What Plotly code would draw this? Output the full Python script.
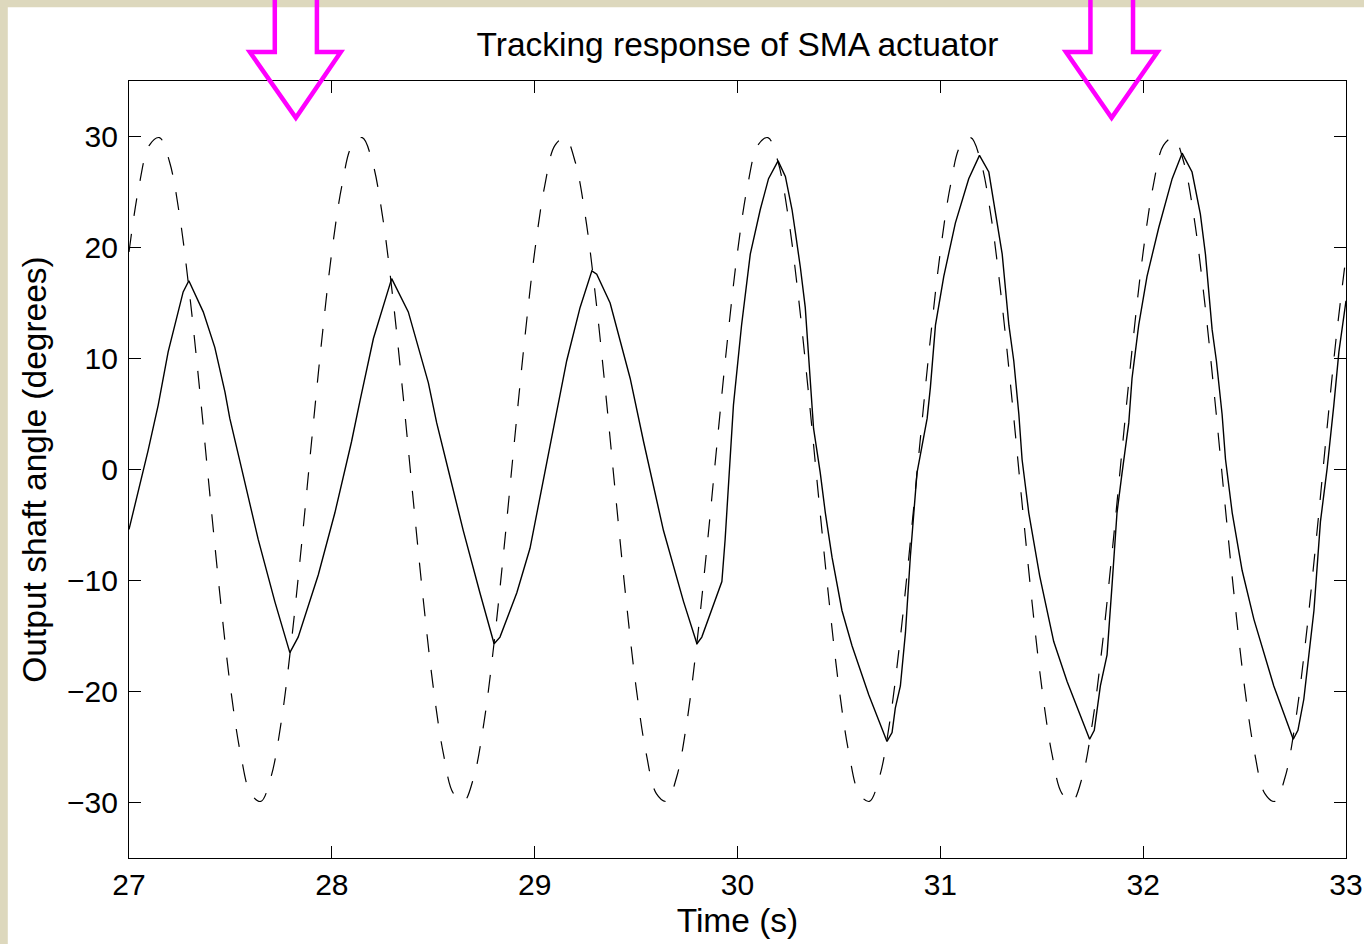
import plotly.graph_objects as go

# ---------------- data ----------------
# reference (dashed) signal, sampled every 0.05 s from t = 27.00 to 33.00
ref_t0 = 27.0
ref_dt = 0.05
ref_angle = [
    19.6, 25.6, 29.2, 29.9, 27.7, 22.8, 15.6, 6.9, -2.5, -11.6,
    -19.6, -25.6, -29.2, -29.9, -27.7, -22.8, -15.6, -6.9, 2.5, 11.6,
    19.6, 25.6, 29.2, 29.9, 27.7, 22.8, 15.6, 6.9, -2.5, -11.6,
    -19.6, -25.6, -29.2, -29.9, -27.7, -22.8, -15.6, -6.9, 2.5, 11.6,
    19.6, 25.6, 29.2, 29.9, 27.7, 22.8, 15.6, 6.9, -2.5, -11.6,
    -19.6, -25.6, -29.2, -29.9, -27.7, -22.8, -15.6, -6.9, 2.5, 11.6,
    19.6, 25.6, 29.2, 29.9, 27.7, 22.8, 15.6, 6.9, -2.5, -11.6,
    -19.6, -25.6, -29.2, -29.9, -27.7, -22.8, -15.6, -6.9, 2.5, 11.6,
    19.6, 25.6, 29.2, 29.9, 27.7, 22.8, 15.6, 6.9, -2.5, -11.6,
    -19.6, -25.6, -29.2, -29.9, -27.7, -22.8, -15.6, -6.9, 2.5, 11.6,
    19.6, 25.6, 29.2, 29.9, 27.7, 22.8, 15.6, 6.9, -2.5, -11.6,
    -19.6, -25.6, -29.2, -29.9, -27.7, -22.8, -15.6, -6.9, 2.5, 11.6,
    19.2,
]

# measured actuator output (solid)
out_time = [
    27.000, 27.094, 27.144, 27.193, 27.267, 27.295, 27.366, 27.423, 27.473, 27.497,
    27.555, 27.637, 27.719, 27.793, 27.834, 27.933, 28.015, 28.097, 28.139, 28.205,
    28.295, 28.377, 28.476, 28.517, 28.583, 28.648, 28.730, 28.800, 28.829, 28.912,
    28.977, 29.076, 29.158, 29.224, 29.282, 29.306, 29.372, 29.471, 29.537, 29.635,
    29.734, 29.800, 29.824, 29.923, 29.939, 29.980, 30.020, 30.063, 30.112, 30.153,
    30.200, 30.236, 30.269, 30.285, 30.310, 30.334, 30.359, 30.375, 30.408, 30.433,
    30.466, 30.515, 30.565, 30.647, 30.737, 30.762, 30.778, 30.803, 30.828, 30.852,
    30.885, 30.935, 30.951, 30.976, 31.017, 31.074, 31.140, 31.193, 31.239, 31.272,
    31.305, 31.338, 31.362, 31.387, 31.403, 31.436, 31.490, 31.559, 31.625, 31.736,
    31.759, 31.789, 31.822, 31.847, 31.871, 31.896, 31.929, 31.945, 31.978, 32.019,
    32.077, 32.143, 32.192, 32.241, 32.282, 32.307, 32.340, 32.361, 32.389, 32.406,
    32.439, 32.488, 32.546, 32.644, 32.740, 32.763, 32.792, 32.817, 32.842, 32.874,
    32.907, 32.940, 32.965, 33.000,
]
out_angle = [
    -5.4, 1.7, 5.8, 10.6, 16.0, 17.0, 14.2, 11.0, 7.0, 4.6,
    0.1, -6.3, -11.9, -16.5, -15.1, -9.5, -3.9, 2.5, 6.2, 11.8,
    17.2, 14.2, 7.8, 4.2, -0.7, -5.5, -11.1, -15.7, -15.1, -11.1,
    -7.1, 2.1, 9.8, 14.6, 17.9, 17.6, 15.0, 8.2, 2.5, -5.5,
    -11.9, -15.7, -15.1, -10.1, -6.3, 5.8, 13.0, 19.4, 23.4, 26.2,
    27.8, 26.4, 23.4, 21.4, 18.2, 14.6, 8.2, 3.7, -0.3, -3.9,
    -7.9, -12.7, -15.9, -20.3, -24.5, -23.7, -21.5, -19.5, -14.7, -7.9,
    -0.3, 4.6, 7.4, 13.0, 17.4, 22.2, 26.2, 28.3, 26.8, 23.0,
    19.4, 13.0, 9.8, 5.0, 0.9, -3.9, -9.6, -15.5, -19.1, -24.3,
    -23.5, -19.5, -16.7, -10.3, -3.9, -0.3, 4.2, 8.2, 13.0, 17.4,
    21.8, 26.2, 28.5, 26.8, 23.0, 19.4, 12.6, 9.8, 5.0, 0.9,
    -3.9, -9.1, -13.5, -19.5, -24.3, -23.5, -20.7, -16.7, -12.7, -4.7,
    0.1, 5.8, 10.6, 15.2,
]

x_ticks = [27, 28, 29, 30, 31, 32, 33]
y_ticks = [-30, -20, -10, 0, 10, 20, 30]

title_text = "Tracking response of SMA actuator"
x_title = "Time (s)"
y_title = "Output shaft angle (degrees)"

# decorative hollow arrows (paper coordinates of the plot area)
arrow_shafts = [(0.1198, 0.1544), (0.7900, 0.8250)]
arrow_heads = [(0.0993, 0.1740), (0.7699, 0.8451)]
arrow_tips = [0.1371, 0.8074]
arrow_top_y = 1.12
arrow_base_y = 1.0373
arrow_tip_y = 0.9526

FONT = "Liberation Sans, Arial, Helvetica, sans-serif"
BEIGE = "#ddd8bd"

fig = go.Figure()
fig.add_trace(go.Scatter(
    x0=ref_t0, dx=ref_dt, y=ref_angle, mode="lines",
    line=dict(color="black", width=1.2, dash="18px,18px", shape="spline", smoothing=1.0),
    showlegend=False, hoverinfo="skip",
))
fig.add_trace(go.Scatter(
    x=out_time, y=out_angle, mode="lines",
    line=dict(color="black", width=1.4),
    showlegend=False, hoverinfo="skip",
))

shapes = []
# beige frame strips (left and top), kept strictly inside the figure
shapes.append(dict(type="rect", xref="paper", yref="paper", x0=-0.1062, x1=-0.0996,
                   y0=-0.1107, y1=1.1043, fillcolor=BEIGE, line=dict(width=0), layer="below"))
shapes.append(dict(type="rect", xref="paper", yref="paper", x0=-0.1062, x1=1.0148,
                   y0=1.0948, y1=1.1043, fillcolor=BEIGE, line=dict(width=0), layer="below"))
for (s0, s1), (h0, h1), tip in zip(arrow_shafts, arrow_heads, arrow_tips):
    path = (f"M {s0},{arrow_top_y} L {s0},{arrow_base_y} L {h0},{arrow_base_y} "
            f"L {tip},{arrow_tip_y} L {h1},{arrow_base_y} L {s1},{arrow_base_y} L {s1},{arrow_top_y}")
    shapes.append(dict(type="path", xref="paper", yref="paper", path=path,
                       line=dict(color="#ff00ff", width=4.5), fillcolor="rgba(0,0,0,0)",
                       layer="above"))

axis_common = dict(
    showgrid=False, zeroline=False, showline=True, linecolor="black", linewidth=1.3,
    mirror="ticks", ticks="inside", ticklen=12, tickwidth=1.2, tickcolor="black",
    tickfont=dict(family=FONT, size=30, color="black"), automargin=False,
)

fig.update_layout(
    width=1364, height=944, autosize=False,
    margin=dict(l=129, r=18, t=81, b=86, autoexpand=False),
    paper_bgcolor="white", plot_bgcolor="white",
    font=dict(family=FONT, color="black"),
    title=dict(text=title_text, x=0.5, xref="paper", y=1 - 44 / 944, yref="container",
               xanchor="center", yanchor="middle", font=dict(family=FONT, size=33.5, color="black")),
    xaxis=dict(range=[27, 33], tickvals=x_ticks, ticktext=[str(v) for v in x_ticks],
               title=dict(text=x_title, font=dict(family=FONT, size=33.5), standoff=8),
               **axis_common),
    yaxis=dict(range=[-35, 35], tickvals=y_ticks, ticklabelstandoff=4,
               title=dict(text=y_title, font=dict(family=FONT, size=33.5), standoff=10),
               **axis_common),
    shapes=shapes,
)

fig.write_html(
    "out.html",
    config={"displayModeBar": False, "responsive": False},
    post_script=("document.documentElement.style.overflow='hidden';"
                 "document.documentElement.style.background='white';"
                 "document.body.style.background='white';"
                 "document.body.style.margin='0';document.body.style.overflow='hidden';"),
)
